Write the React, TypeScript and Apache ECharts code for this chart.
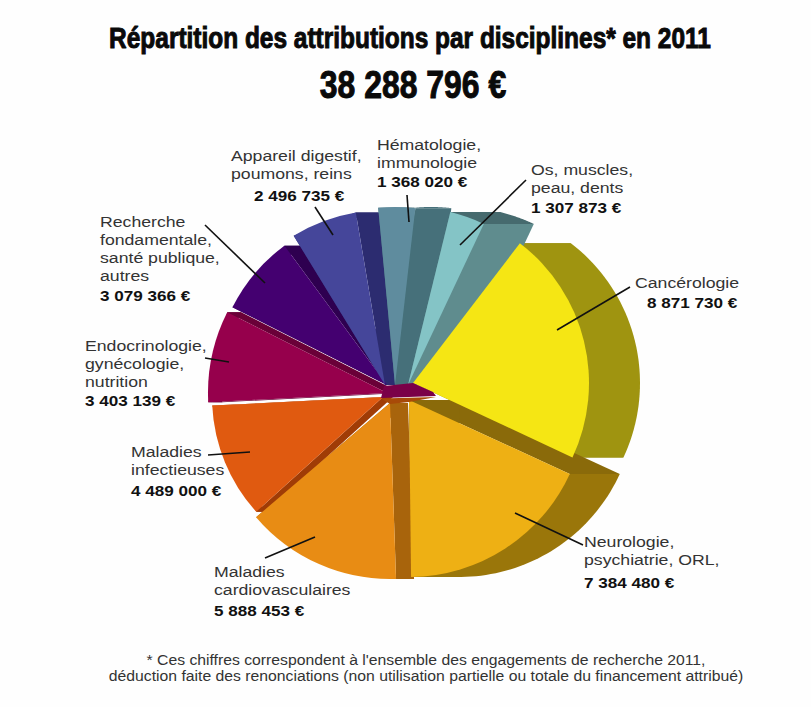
import React, { useEffect, useRef } from "react";
import * as echarts from "echarts";

// Grants awarded per discipline, 2011 (euros)
const disciplines = [
  "Cancérologie",
  "Neurologie,\npsychiatrie, ORL,",
  "Maladies\ncardiovasculaires",
  "Maladies\ninfectieuses",
  "Endocrinologie,\ngynécologie,\nnutrition",
  "Recherche\nfondamentale,\nsanté publique,\nautres",
  "Appareil digestif,\npoumons, reins",
  "Hématologie,\nimmunologie",
  "Os, muscles,\npeau, dents",
];
const amounts = [8871730, 7384480, 5888453, 4489000, 3403139, 3079366, 2496735, 1368020, 1307873];

const titleText = "Répartition des attributions par disciplines* en 2011";
const footnote =
  "* Ces chiffres correspondent à l'ensemble des engagements de recherche 2011,\ndéduction faite des renonciations (non utilisation partielle ou totale du financement attribué)";

const faceColors = ["#f5e614", "#eeb014", "#e88c14", "#e05a10", "#96004c", "#440070", "#45469a", "#5f8c9e", "#84c4c6"];
const rimColors = ["#9f9410", "#9a760a", "#a8640c", "#a03c06", "#6a0038", "#2e0050", "#2c2c70", "#46707a", "#466a6e"];
const flankColors = ["#8f850e", "#8a6a0a", "#a8640c", "#a03c06", "#6a0038", "#2e0050", "#2c2c70", "#46707a", "#5f8c8e"];

// Where each wedge is pulled to: apex, radius, extra rotation (deg), sideways extrusion (px)
const wedgeCx = [413, 409, 390, 383, 387, 387, 385, 395, 408];
const wedgeCy = [383, 400, 403, 397, 393, 385, 385, 385, 385];
const wedgeR = [176, 177, 176, 171, 179, 173, 175, 178, 178];
const wedgeTurn = [0, 0.3, 1.6, 3.3, 3.4, 3.5, -1.4, -5.6, -12.8];
const wedgeDepth = [51, 50, 18, 10, 14, 18, 25, 36, 50];

const START_DEG = 52.6;
const SWEEP_DEG = 335; // the wedges share this sweep, the rest is taken up by their side faces

const valueAnchors = [[647, 302], [584, 582], [214, 610], [131, 490], [85, 400], [100, 295], [254, 195], [377, 181], [531, 207]];
const nameAnchors = [[635, 283], [584, 542], [214, 572], [131, 452], [85, 346], [100, 222], [231, 156], [377, 145], [531, 170]];
const leaders = [
  [630, 287, 557, 330],
  [583, 545, 515, 513],
  [265, 558, 315, 537],
  [208, 455, 250, 452],
  [205, 358, 229, 362],
  [205, 225, 265, 283],
  [315, 207, 333, 235],
  [407, 195, 409, 222],
  [526, 180, 460, 245],
];

const total = amounts.reduce((a, b) => a + b, 0);
const euro = (v: number) => String(v).replace(/\B(?=(\d{3})+$)/g, " ") + " €";

function wedgeAngles(i: number) {
  let before = 0;
  for (let k = 0; k < i; k++) before += amounts[k];
  const from = START_DEG - (before / total) * SWEEP_DEG + wedgeTurn[i];
  const to = from - (amounts[i] / total) * SWEEP_DEG;
  return { from: (from * Math.PI) / 180, to: (to * Math.PI) / 180 };
}

function sidesItem(params: any) {
  const i = params.dataIndex;
  const { from, to } = wedgeAngles(i);
  const cx = wedgeCx[i], cy = wedgeCy[i], r = wedgeR[i], d = wedgeDepth[i];
  const at = (a: number, dx: number) => [cx + dx + r * Math.cos(a), cy - r * Math.sin(a)];
  const c1 = at(from, 0), c2 = at(to, 0);
  const arc: number[][] = [];
  for (let s = 0; s <= 40; s++) arc.push(at(from + ((to - from) * s) / 40, d));
  return {
    type: "group",
    children: [
      { type: "polygon", shape: { points: [[cx, cy], c1, at(from, d), [cx + d, cy]] }, style: { fill: flankColors[i] } },
      { type: "polygon", shape: { points: [[cx, cy], c2, at(to, d), [cx + d, cy]] }, style: { fill: flankColors[i] } },
      { type: "polygon", shape: { points: [c1, ...arc, c2] }, style: { fill: rimColors[i] } },
    ],
  };
}

function faceItem(params: any) {
  const i = params.dataIndex;
  const { from, to } = wedgeAngles(i);
  return {
    type: "sector",
    shape: { cx: wedgeCx[i], cy: wedgeCy[i], r: wedgeR[i], r0: 0, startAngle: -from, endAngle: -to, clockwise: true },
    style: { fill: faceColors[i] },
  };
}

const bodyFont = '15.5px "Liberation Sans", Arial, sans-serif';
const boldFont = 'bold 15px "Liberation Sans", Arial, sans-serif';
const ink = "#333333";
const LABEL_STRETCH = 1.14;

function buildGraphics() {
  const els: any[] = [
    {
      type: "polygon", z: 50, silent: true,
      shape: { points: [[384, 386], [413, 383], [433, 392], [436, 396], [381, 398]] },
      style: { fill: "#7a0048" },
    },
    {
      type: "polygon", z: 50, silent: true,
      shape: { points: [[381, 398.5], [436, 397], [409, 402], [390, 404]] },
      style: { fill: "#a84a08" },
    },
    {
      type: "text", x: 410, y: 38, scaleX: 0.815, z: 60,
      style: { text: titleText, font: 'bold 30px "Liberation Sans", Arial, sans-serif', fill: "#0a0a0a", stroke: "#0a0a0a", lineWidth: 1, align: "center", verticalAlign: "middle" },
    },
    {
      type: "text", x: 413, y: 84, scaleX: 0.84, z: 60,
      style: { text: euro(total), font: 'bold 38px "Liberation Sans", Arial, sans-serif', fill: "#0a0a0a", stroke: "#0a0a0a", lineWidth: 1, align: "center", verticalAlign: "middle" },
    },
    {
      type: "text", x: 426, y: 652, scaleX: 1.087, z: 60,
      style: { text: footnote, font: '14.5px "Liberation Sans", Arial, sans-serif', fill: ink, align: "center", verticalAlign: "top", lineHeight: 16 },
    },
  ];
  disciplines.forEach((name, i) => {
    els.push({
      type: "text", x: nameAnchors[i][0], y: nameAnchors[i][1] - 9, scaleX: LABEL_STRETCH, z: 60,
      style: { text: name, font: bodyFont, fill: ink, align: "left", verticalAlign: "top", lineHeight: 18 },
    });
    els.push({
      type: "text", x: valueAnchors[i][0], y: valueAnchors[i][1], scaleX: LABEL_STRETCH, z: 60,
      style: { text: euro(amounts[i]), font: boldFont, fill: "#111111", align: "left", verticalAlign: "middle" },
    });
    const [x1, y1, x2, y2] = leaders[i];
    els.push({
      type: "line", z: 55, silent: true,
      shape: { x1, y1, x2, y2 },
      style: { stroke: "#111111", lineWidth: 1.6 },
    });
  });
  return els;
}

export default function App() {
  const ref = useRef<HTMLDivElement>(null);
  useEffect(() => {
    const chart = echarts.init(ref.current!, undefined, { renderer: "svg" });
    const rows = disciplines.map((name, i) => ({ name: name.replace(/\n/g, " "), value: amounts[i] }));
    chart.setOption({
      animation: false,
      backgroundColor: "#fefefe",
      series: [
        { type: "custom", coordinateSystem: "none", z: 2, silent: true, renderItem: sidesItem, data: rows },
        { type: "custom", coordinateSystem: "none", z: 3, silent: true, renderItem: faceItem, data: rows },
      ],
      graphic: { elements: buildGraphics() },
    });
    return () => chart.dispose();
  }, []);
  return <div ref={ref} style={{ position: "absolute", left: 0, top: 0, width: 811, height: 707 }} />;
}
